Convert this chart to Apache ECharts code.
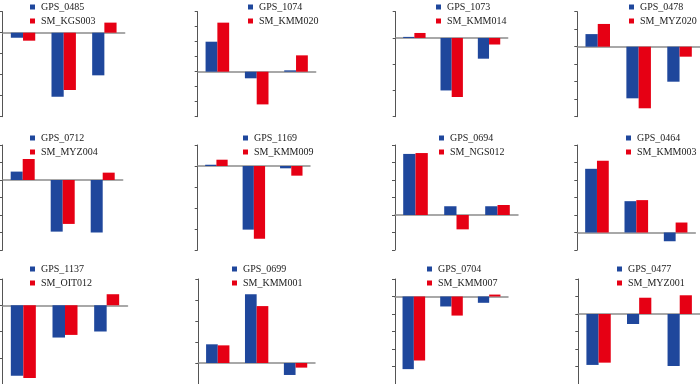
<!DOCTYPE html>
<html>
<head>
<meta charset="utf-8">
<script src="https://cdn.jsdelivr.net/npm/echarts@6/dist/echarts.min.js"></script>
<style>html,body{margin:0;padding:0;background:#fff}#c{width:700px;height:384px}</style>
</head>
<body>
<div id="c"></div>
<script>
const categories = ['1', '2', '3'];
const gpsNames = ['GPS_0485','GPS_1074','GPS_1073','GPS_0478','GPS_0712','GPS_1169','GPS_0694','GPS_0464','GPS_1137','GPS_0699','GPS_0704','GPS_0477'];
const smNames = ['SM_KGS003','SM_KMM020','SM_KMM014','SM_MYZ020','SM_MYZ004','SM_KMM009','SM_NGS012','SM_KMM003','SM_OIT012','SM_KMM001','SM_KMM007','SM_MYZ001'];
const gpsValues = [
  [-0.24, -3.05, -2.03],
  [2.0, -0.44, 0.09],
  [0.04, -2.0, -0.79],
  [0.72, -2.95, -2.0],
  [0.48, -2.95, -3.0],
  [0.06, -3.03, -0.11],
  [3.49, 0.5, 0.5],
  [3.64, 1.79, -0.5],
  [-2.69, -1.23, -1.0],
  [0.89, 3.27, -0.57],
  [-4.15, -0.57, -0.36],
  [-2.91, -0.57, -2.97]
];
const smValues = [
  [-0.38, -2.73, 0.48],
  [3.27, -2.18, 1.09],
  [0.19, -2.25, -0.25],
  [1.3, -3.52, -0.57],
  [1.2, -2.51, 0.42],
  [0.3, -3.46, -0.46],
  [3.54, -0.82, 0.57],
  [4.1, 1.85, 0.57],
  [-2.77, -1.13, 0.42],
  [0.84, 2.71, -0.22],
  [-3.66, -1.09, 0.11],
  [-2.78, 0.93, 1.07]
];
const axisMin = [-4, -3, -3, -4, -4, -4, -2, -1, -3, -1, -5, -4];
const axisMax = [1, 4, 1, 2, 2, 1, 4, 5, 1, 4, 1, 2];

// layout (pixels)
const gridLeft  = [2.7, 197.7, 395.7, 577.3, 2.7, 197.7, 395, 577.3, 2.5, 198.3, 395, 578.3];
const gridWidth = [122, 118, 112, 123, 120, 112.3, 123, 118, 125, 116.7, 113, 122];
const rowTop = [11.7, 145, 279];
const legendLeft = [30, 248, 436, 629, 30, 243, 439, 626, 30, 232, 427, 617];
const legendTop = [0, 131, 262];

const BLUE = '#1F479C';
const RED = '#E60014';

const grids = [], xAxes = [], yAxes = [], series = [], legends = [];
for (let i = 0; i < 12; i++) {
  const row = Math.floor(i / 4);
  grids.push({ left: gridLeft[i], top: rowTop[row], width: gridWidth[i], height: 105, containLabel: false });
  xAxes.push({
    type: 'category', gridIndex: i, data: categories,
    axisLine: { show: true, onZero: true, lineStyle: { color: '#8c8c8c', width: 1.5 } },
    axisTick: { show: false }, axisLabel: { show: false }, splitLine: { show: false }
  });
  yAxes.push({
    type: 'value', gridIndex: i, min: axisMin[i], max: axisMax[i], interval: 1,
    axisLine: { show: true, lineStyle: { color: '#555', width: 1 } },
    axisTick: { show: true, length: 3, lineStyle: { color: '#555', width: 1 } },
    axisLabel: { show: false }, splitLine: { show: false }
  });
  series.push({
    name: gpsNames[i], type: 'bar', xAxisIndex: i, yAxisIndex: i, data: gpsValues[i],
    itemStyle: { color: BLUE }, barGap: '0%', barCategoryGap: '40%'
  });
  series.push({
    name: smNames[i], type: 'bar', xAxisIndex: i, yAxisIndex: i, data: smValues[i],
    itemStyle: { color: RED }, barGap: '0%', barCategoryGap: '40%'
  });
  legends.push({
    data: [gpsNames[i], smNames[i]], orient: 'vertical', left: legendLeft[i], top: legendTop[row],
    icon: 'rect', itemWidth: 5, itemHeight: 5, itemGap: 0, padding: 0,
    textStyle: { fontFamily: 'Liberation Serif', fontSize: 10, color: '#222', lineHeight: 14, padding: [0, 0, 0, 1] }
  });
}

const chart = echarts.init(document.getElementById('c'), null, { renderer: 'canvas' });
chart.setOption({
  animation: false,
  grid: grids, xAxis: xAxes, yAxis: yAxes, series: series, legend: legends
});
</script>
</body>
</html>
